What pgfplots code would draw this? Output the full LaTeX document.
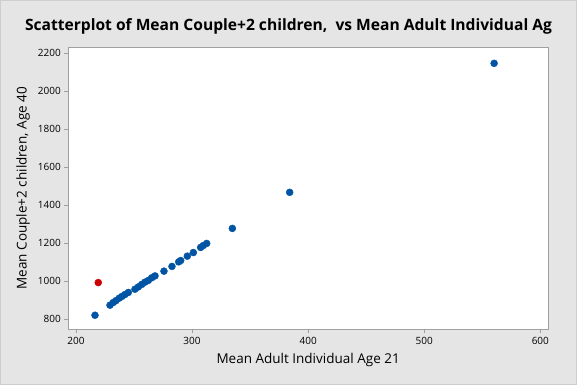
\documentclass[border=0pt]{standalone}
\usepackage{pgfplots}
\pgfplotsset{compat=1.18}
\usepackage{fontspec}
\setmainfont{Open Sans}
\definecolor{bg}{RGB}{229,229,229}
\definecolor{edge}{RGB}{206,206,206}
\definecolor{frame}{RGB}{160,160,160}
\definecolor{ptblue}{RGB}{0,84,164}
\definecolor{ptred}{RGB}{204,0,0}
\begin{document}
\begin{tikzpicture}[x=1pt,y=1pt]
\fill[bg] (0,0) rectangle (577,385);
\draw[edge,line width=1pt] (0.5,0.5) rectangle (576.5,384.5);
\begin{axis}[
  at={(68.3pt,55.7pt)}, anchor=south west,
  scale only axis, width=479.7pt, height=282.3pt,
  xmin=193.4, xmax=606.6, ymin=747, ymax=2233,
  axis background/.style={fill=white},
  axis line style={frame, line width=0.9pt},
  xtick={200,300,400,500,600}, ytick={800,1000,1200,1400,1600,1800,2000,2200},
  tick align=outside, tick pos=left, major tick length=4pt,
  tick style={frame, line width=0.8pt},
  ticklabel style={font=\fontsize{10}{12}\selectfont, text=black},
  /pgf/number format/assume math mode=true,
  /pgf/number format/1000 sep={},
  xlabel={Mean Adult Individual Age 21},
  ylabel={Mean Couple+2 children, Age 40},
  label style={font=\fontsize{13.5}{16}\selectfont, text=black},
  xlabel style={at={(axis description cs:0.5,-0.1088)}, anchor=center},
  ylabel style={at={(axis description cs:-0.0944,0.5)}, anchor=center},
  clip=false,
]
\addplot[only marks, mark=*, mark size=3.5pt, mark options={draw=ptblue, fill=ptblue}] table {
x y
216.4 821
229.3 874
232.1 888
234.5 898
237.3 911
239.6 920
242.2 930
245.1 941
250.8 958
253.7 970
256.6 983
259.4 995
262.3 1004
265.2 1018
268.1 1028
275.8 1053
282.7 1078
288.5 1102
290.2 1109
295.9 1132
301.1 1151
307.4 1178
309.7 1188
312.6 1199
334.7 1278
384.1 1468
560.2 2147
};
\addplot[only marks, mark=*, mark size=3.5pt, mark options={draw=ptred, fill=ptred}] table {
x y
219.2 993
};
\end{axis}
\node[font=\fontsize{15.6}{18}\selectfont\bfseries] at (288.5,359) {Scatterplot of Mean Couple+2 children,\ \ vs Mean Adult Individual Ag};
\end{tikzpicture}
\end{document}
